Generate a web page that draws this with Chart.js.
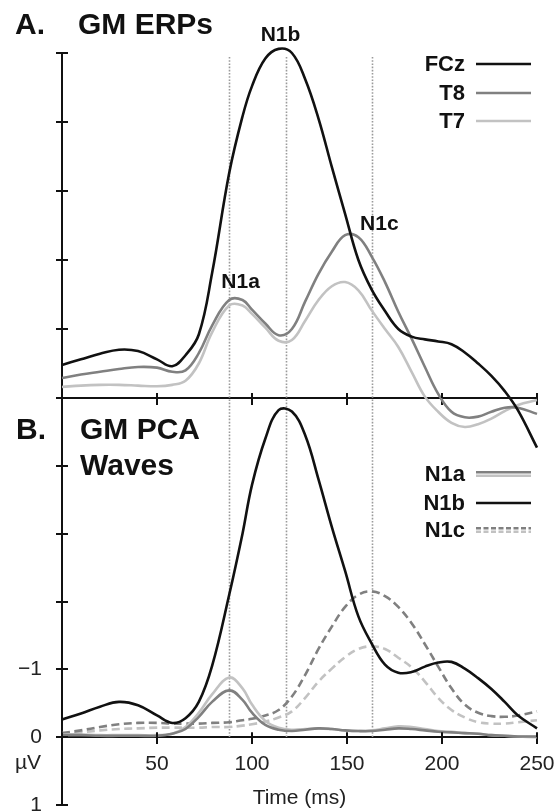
<!DOCTYPE html>
<html lang="en">
<head>
<meta charset="UTF-8" />
<title>GM ERPs and GM PCA Waves</title>
<script src="https://cdn.jsdelivr.net/npm/chart.js"></script>
<style>
  html, body { margin: 0; background: #fff; }
  #wrap { position: relative; width: 556px; height: 811px; }
</style>
</head>
<body>
<div id="wrap"><canvas id="erp" width="556" height="811"></canvas></div>
<script>
// time points (ms)
const times = [0,10,20,30,40,50,58,65,72,79,88,95,100,107,114,121,128,135,142,149,156,163,170,177,184,191,198,205,212,219,226,233,240,250];

// A. GM ERPs (negative up)
const fcz = [-0.48,-0.56,-0.64,-0.70,-0.68,-0.56,-0.46,-0.62,-0.92,-1.81,-3.26,-4.08,-4.52,-4.92,-5.06,-5.0,-4.62,-4.05,-3.35,-2.67,-2.0,-1.57,-1.26,-1.0,-0.89,-0.85,-0.82,-0.78,-0.66,-0.50,-0.32,-0.10,0.18,0.72];
const t8 = [-0.29,-0.34,-0.38,-0.42,-0.45,-0.44,-0.38,-0.40,-0.65,-1.05,-1.42,-1.42,-1.28,-1.08,-0.91,-1.0,-1.40,-1.80,-2.12,-2.36,-2.33,-2.05,-1.68,-1.25,-0.86,-0.45,-0.06,0.20,0.28,0.27,0.20,0.14,0.14,0.23];
const t7 = [-0.16,-0.18,-0.19,-0.19,-0.18,-0.17,-0.19,-0.25,-0.50,-0.95,-1.34,-1.34,-1.22,-1.02,-0.83,-0.84,-1.12,-1.42,-1.62,-1.68,-1.56,-1.27,-1.0,-0.74,-0.38,-0.02,0.20,0.36,0.42,0.38,0.30,0.19,0.10,0.03];

// B. GM PCA waves (µV)
const n1aDark = [-0.03,-0.03,-0.02,-0.02,-0.02,-0.02,-0.05,-0.12,-0.30,-0.52,-0.69,-0.55,-0.36,-0.18,-0.11,-0.09,-0.11,-0.13,-0.12,-0.10,-0.09,-0.09,-0.11,-0.13,-0.12,-0.10,-0.08,-0.07,-0.06,-0.05,-0.03,-0.02,-0.01,-0.01];
const n1aLight = [-0.04,-0.04,-0.03,-0.03,-0.03,-0.03,-0.05,-0.15,-0.36,-0.63,-0.88,-0.72,-0.48,-0.24,-0.14,-0.11,-0.12,-0.13,-0.12,-0.10,-0.09,-0.10,-0.13,-0.16,-0.15,-0.12,-0.09,-0.08,-0.06,-0.05,-0.03,-0.02,-0.01,0];
const n1b = [-0.26,-0.35,-0.45,-0.52,-0.47,-0.32,-0.21,-0.28,-0.52,-1.05,-2.1,-3.0,-3.72,-4.4,-4.82,-4.8,-4.45,-3.8,-3.1,-2.45,-1.78,-1.38,-1.07,-0.95,-0.96,-1.04,-1.1,-1.11,-1.01,-0.87,-0.71,-0.52,-0.32,-0.13];
const n1cDark = [-0.06,-0.10,-0.15,-0.19,-0.21,-0.21,-0.20,-0.20,-0.20,-0.21,-0.22,-0.25,-0.27,-0.32,-0.40,-0.6,-0.92,-1.3,-1.63,-1.92,-2.1,-2.15,-2.08,-1.92,-1.68,-1.37,-1.04,-0.72,-0.48,-0.36,-0.31,-0.30,-0.32,-0.38];
const n1cLight = [-0.04,-0.07,-0.10,-0.12,-0.13,-0.14,-0.14,-0.14,-0.14,-0.15,-0.15,-0.17,-0.19,-0.23,-0.29,-0.38,-0.58,-0.82,-1.01,-1.18,-1.30,-1.34,-1.30,-1.17,-1.03,-0.82,-0.58,-0.40,-0.29,-0.22,-0.20,-0.20,-0.22,-0.25];

const peakTimes = [88, 118, 163];
const peakNames = ['N1a', 'N1b', 'N1c'];
const legendA = ['FCz', 'T8', 'T7'];
const legendB = ['N1a', 'N1b', 'N1c'];
const yLabelsB = { '-1': '\u22121', '0': '0', '1': '1' };

const FONT = '"Liberation Sans", Arial, sans-serif';
const BLACK = '#111111', DARK = '#808080', LIGHT = '#c2c2c2';

const pts = vals => times.map((t, i) => ({ x: t, y: vals[i] }));

function line(label, vals, yAxisID, color, dash) {
  return {
    label, data: pts(vals), xAxisID: 'x', yAxisID,
    borderColor: color, borderWidth: 2.6, borderDash: dash || [],
    pointRadius: 0, tension: 0.4, fill: false, clip: false
  };
}

const datasets = [
  line('FCz', fcz, 'yA', BLACK),
  line('T8', t8, 'yA', DARK),
  line('T7', t7, 'yA', LIGHT),
  line('N1b', n1b, 'yB', BLACK),
  line('N1a T8', n1aDark, 'yB', DARK),
  line('N1a T7', n1aLight, 'yB', LIGHT),
  line('N1c T8', n1cDark, 'yB', DARK, [8, 4.5]),
  line('N1c T7', n1cLight, 'yB', LIGHT, [8, 4.5])
];

const axisGrid = { drawOnChartArea: false, drawTicks: true, tickLength: 6, color: BLACK, lineWidth: 2 };
const axisBorder = { display: true, color: BLACK, width: 2 };

// keep the scales from reserving room: the page padding sets the plot area
const fitY = s => { s.width = 62; s.paddingTop = 0; s.paddingBottom = 0; };
const fitX = s => { s.height = 0; s.paddingLeft = 0; s.paddingRight = 0; };

// peak label anchors (ms, value on panel A scale)
const peakLabelPos = [[94, -1.59], [115, -5.17], [167, -2.43]];

const decor = {
  id: 'decor',
  beforeDatasetsDraw(chart) {
    const { ctx, scales: { x, yA, yB } } = chart;
    ctx.save();
    ctx.strokeStyle = '#9a9a9a';
    ctx.lineWidth = 1.6;
    ctx.setLineDash([1.6, 1.6]);
    const top = yA.getPixelForValue(-5) + 4;
    const bot = yB.getPixelForValue(0);
    peakTimes.forEach(t => {
      const px = Math.round(x.getPixelForValue(t)) + 0.5;
      ctx.beginPath(); ctx.moveTo(px, top); ctx.lineTo(px, bot); ctx.stroke();
    });
    ctx.restore();
  },
  afterDraw(chart) {
    const { ctx, chartArea, scales: { x, xTop, yA, yB } } = chart;
    ctx.save();
    // inner halves of tick marks
    ctx.strokeStyle = BLACK; ctx.lineWidth = 2;
    [yA, yB].forEach(s => s.ticks.forEach(t => {
      const py = Math.round(s.getPixelForValue(t.value));
      ctx.beginPath(); ctx.moveTo(chartArea.left, py); ctx.lineTo(chartArea.left + 6, py); ctx.stroke();
    }));
    [[x, yB.getPixelForValue(0)], [xTop, yB.getPixelForValue(-5)]].forEach(([s, py]) => s.ticks.forEach(t => {
      const px = Math.round(s.getPixelForValue(t.value));
      ctx.beginPath(); ctx.moveTo(px, py); ctx.lineTo(px, py - 5); ctx.stroke();
    }));

    // unit and axis title
    ctx.fillStyle = '#222';
    ctx.font = '21px ' + FONT;
    ctx.textAlign = 'right'; ctx.textBaseline = 'middle';
    ctx.fillText('\u00b5V', chartArea.left - 21, yB.getPixelForValue(0.38));
    ctx.textAlign = 'center'; ctx.textBaseline = 'alphabetic';
    ctx.fillText('Time (ms)', (x.left + x.right) / 2, chartArea.bottom - 1);

    // panel titles
    ctx.fillStyle = BLACK;
    ctx.font = 'bold 30px ' + FONT;
    ctx.textAlign = 'left';
    ctx.fillText('A.', 15, 34);
    ctx.fillText('GM ERPs', 78, 34);
    const bTop = yB.getPixelForValue(-5);
    ctx.fillText('B.', 16, bTop + 41);
    ctx.fillText('GM PCA', 80, bTop + 41);
    ctx.fillText('Waves', 80, bTop + 77);

    // peak labels
    ctx.font = 'bold 21px ' + FONT;
    ctx.textAlign = 'center';
    peakNames.forEach((n, i) => {
      ctx.fillText(n, x.getPixelForValue(peakLabelPos[i][0]), yA.getPixelForValue(peakLabelPos[i][1]));
    });

    // legends
    const tx = chartArea.right - 72, l0 = chartArea.right - 61, l1 = chartArea.right - 6;
    ctx.font = 'bold 22px ' + FONT;
    ctx.textAlign = 'right'; ctx.textBaseline = 'middle';
    const seg = (py, color, dash) => {
      ctx.strokeStyle = color; ctx.lineWidth = 2.6; ctx.setLineDash(dash || []);
      ctx.beginPath(); ctx.moveTo(l0, py); ctx.lineTo(l1, py); ctx.stroke();
      ctx.setLineDash([]);
    };
    const rowsA = [chartArea.top + 11, chartArea.top + 40, chartArea.top + 68];
    const colsA = [BLACK, DARK, LIGHT];
    legendA.forEach((n, i) => {
      ctx.fillStyle = BLACK; ctx.fillText(n, tx, rowsA[i] + 1);
      seg(rowsA[i], colsA[i]);
    });
    const rowsB = [bTop + 76, bTop + 105, bTop + 132];
    legendB.forEach((n, i) => {
      ctx.fillStyle = BLACK; ctx.fillText(n, tx, rowsB[i] + 1);
      if (i === 1) seg(rowsB[i], BLACK);
      else {
        const d = i === 2 ? [5, 2.5] : null;
        seg(rowsB[i] - 1.7, DARK, d);
        seg(rowsB[i] + 1.7, LIGHT, d);
      }
    });
    ctx.restore();
  }
};

new Chart(document.getElementById('erp'), {
  type: 'line',
  data: { datasets },
  options: {
    responsive: false,
    animation: false,
    devicePixelRatio: 1,
    layout: { padding: { left: 0, right: 19, top: 53, bottom: 6 } },
    plugins: { legend: { display: false }, tooltip: { enabled: false } },
    scales: {
      x: {
        type: 'linear', min: 0, max: 250, position: { yB: 0 },
        afterFit: fitX,
        grid: axisGrid, border: axisBorder,
        ticks: {
          stepSize: 50, autoSkip: false, maxRotation: 0, padding: 8,
          color: '#222', font: { size: 21, family: FONT },
          callback: v => (v === 0 ? '' : String(v))
        }
      },
      xTop: {
        type: 'linear', min: 0, max: 250, position: { yB: -5 },
        afterFit: fitX,
        grid: axisGrid, border: axisBorder,
        ticks: { stepSize: 50, autoSkip: false, maxRotation: 0, callback: () => '' }
      },
      yA: {
        type: 'linear', min: -5, max: 0, reverse: true,
        position: 'left', stack: 'panels', stackWeight: 345, weight: 2,
        afterFit: fitY,
        grid: axisGrid, border: axisBorder,
        ticks: { stepSize: 1, display: false }
      },
      yB: {
        type: 'linear', min: -5, max: 1, reverse: true,
        position: 'left', stack: 'panels', stackWeight: 407, weight: 1,
        afterFit: fitY,
        grid: axisGrid, border: axisBorder,
        ticks: {
          stepSize: 1, autoSkip: false, padding: 14,
          color: '#222', font: { size: 21, family: FONT },
          callback: v => (yLabelsB[String(v)] !== undefined ? yLabelsB[String(v)] : '')
        }
      }
    }
  },
  plugins: [decor]
});
</script>
</body>
</html>
